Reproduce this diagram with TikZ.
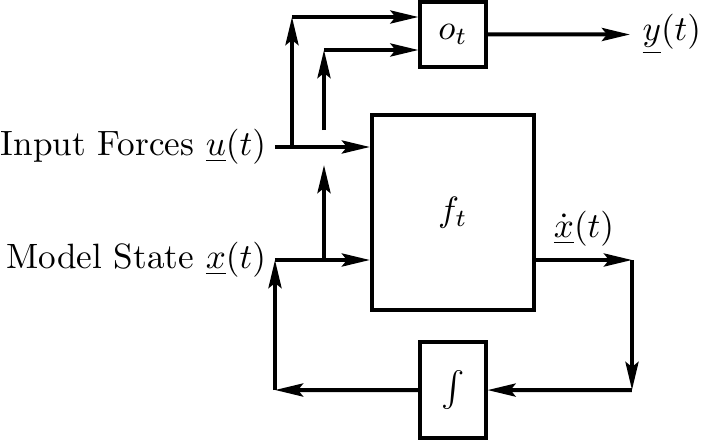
\documentclass[tikz,border=0pt]{standalone}
\usetikzlibrary{arrows.meta,positioning,calc}
\begin{document}
\begin{tikzpicture}[
  x=0.01cm, y=-0.01cm,
  line width=0.04cm,
  box/.style={draw, line width=0.04cm, inner sep=0pt},
  note/.style={inner sep=2pt},
  arr/.style={-{Stealth[length=0.28cm, width=0.13cm, inset=0.05cm]}}
]
\useasboundingbox (0,0) rectangle (705,442);

\node[box, minimum width=1.62cm, minimum height=1.95cm] (f) at (453,212.5) {$f_t$};
\node[box, minimum width=0.65cm, minimum height=0.65cm, above=0.44cm of f] (ot) {$o_t$};
\node[box, minimum width=0.65cm, minimum height=0.96cm, below=0.28cm of f] (intg) {\large$\int$};

\coordinate (uin) at (275,147);
\coordinate (usplit) at (292,147);
\coordinate (utop) at (292,17);
\coordinate (xin) at (275,260);
\coordinate (xsplit) at (324,260);
\coordinate (xlow) at (324,165);
\coordinate (xhigh) at (324,130);
\coordinate (xtop) at (324,50);
\coordinate (dxr) at (632,260);
\coordinate (dxd) at (632,390);
\coordinate (fbl) at (275,390);
\coordinate (yend) at (630,34.5);

\node[note, left=0pt of uin] (ulabel) {Input Forces $\underline{u}(t)$};
\node[note, left=0pt of xin] (xlabel) {Model State $\underline{x}(t)$};
\node[note, right=1pt of yend] (ylabel) {$\underline{y}(t)$};
\node[above=0pt of $(xin -| f.east)!0.5!(dxr)$] (dxlabel) {$\dot{\underline{x}}(t)$};

\draw[arr] (uin) -- (uin -| f.west);
\draw[arr] (usplit) -- (utop);
\draw[arr] (utop) -- (utop -| ot.west);
\draw[arr] (xsplit) -- (xlow);
\draw[arr] (xhigh) -- (xtop);
\draw[arr] (xtop) -- (xtop -| ot.west);
\draw[arr] (xin) -- (xin -| f.west);
\draw[arr] (xin -| f.east) -- (dxr);
\draw[arr] (dxr) -- (dxd);
\draw[arr] (dxd) -- (intg);
\draw[arr] (intg) -- (fbl);
\draw[arr] (fbl) -- (xin);
\draw[arr] (ot) -- (yend);

\end{tikzpicture}
\end{document}
